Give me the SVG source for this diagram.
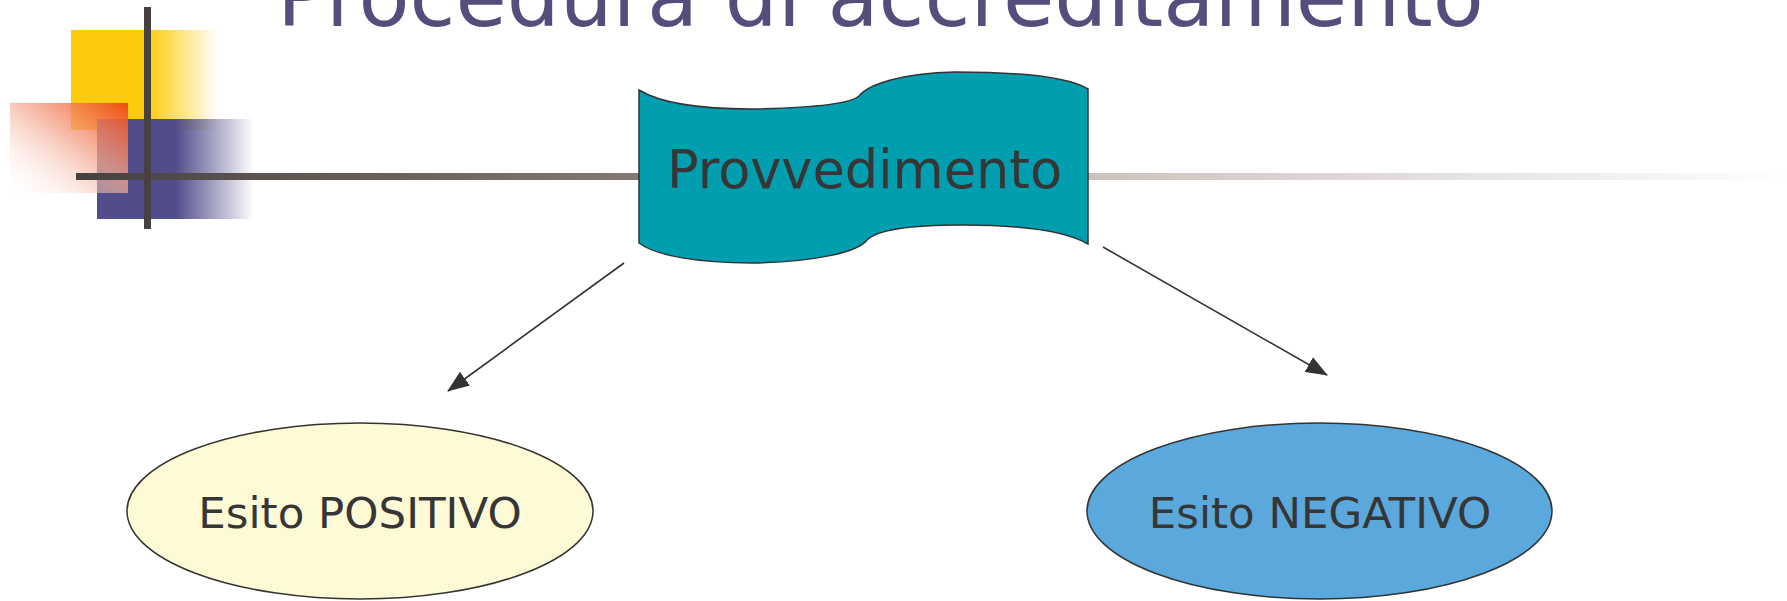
<svg xmlns="http://www.w3.org/2000/svg" width="1787" height="601" viewBox="0 0 1787 601">
<style>
.lbl{font-family:"DejaVu Sans","Verdana",sans-serif;fill:#363636;text-anchor:middle}
.node{stroke:#333333;stroke-width:1.5}
.conn{stroke:#333333;stroke-width:1.6;fill:none}
</style>
<defs>
<linearGradient id="gY" x1="0" y1="0" x2="1" y2="0">
<stop offset="0" stop-color="#fecb0a"/><stop offset="0.52" stop-color="#fecb0a"/><stop offset="1" stop-color="#fecb0a" stop-opacity="0"/>
</linearGradient>
<linearGradient id="gB" x1="0" y1="0" x2="1" y2="0">
<stop offset="0" stop-color="#514d8a"/><stop offset="0.5" stop-color="#514d8a"/><stop offset="1" stop-color="#514d8a" stop-opacity="0"/>
</linearGradient>
<linearGradient id="gP" x1="1" y1="0" x2="0" y2="1">
<stop offset="0" stop-color="#ee4510" stop-opacity="0.95"/><stop offset="0.45" stop-color="#f4a890" stop-opacity="0.75"/><stop offset="1" stop-color="#ffffff" stop-opacity="0.1"/>
</linearGradient>
<linearGradient id="gH" gradientUnits="userSpaceOnUse" x1="76" y1="0" x2="1787" y2="0">
<stop offset="0" stop-color="#45413f"/><stop offset="0.33" stop-color="#867975"/><stop offset="0.6" stop-color="#cbc3c0"/><stop offset="1" stop-color="#ffffff"/>
</linearGradient>
<marker id="arr" markerUnits="userSpaceOnUse" viewBox="0 0 22 17" refX="21" refY="8.5" markerWidth="22" markerHeight="17" orient="auto">
<path d="M0,0 L22,8.5 L0,17 z" fill="#333333"/>
</marker>
</defs>
<rect width="1787" height="601" fill="#ffffff"/>
<g id="decoration">
<rect x="71" y="30" width="147" height="100" fill="url(#gY)"/>
<rect x="97" y="119" width="157" height="100" fill="url(#gB)"/>
<rect x="10" y="103" width="118" height="90" fill="url(#gP)"/>
<rect x="76" y="173" width="1711" height="7" fill="url(#gH)"/>
<rect x="144" y="7" width="7" height="222" fill="#47423f"/>
</g>
<g id="title">
<text x="277" y="26" font-family="DejaVu Sans, Verdana, sans-serif" font-size="83.5" fill="#544e7c">Procedura di accreditamento</text>
</g>
<g id="connectors">
<line class="conn" x1="624" y1="263" x2="448" y2="391" marker-end="url(#arr)"/>
<line class="conn" x1="1103" y1="247" x2="1327" y2="375" marker-end="url(#arr)"/>
</g>
<g id="provvedimento">
<path class="node" fill="#019eb0" d="M639,90 C662,104 700,109 751,109 C808,108 850,104 859,96 C868,85 900,73 955,72 C1020,72 1068,77 1088,89 L1088,244 C1066,231 1022,225 962,225 C906,225 876,231 867,240 C858,252 816,262 751,263 C700,263 656,256 639,243 Z"/>
<text class="lbl" x="864.5" y="188" font-size="52.5">Provvedimento</text>
</g>
<g id="esito-positivo">
<ellipse class="node" cx="360" cy="511" rx="233" ry="88" fill="#fffad6"/>
<text class="lbl" x="360" y="528" font-size="43.5">Esito POSITIVO</text>
</g>
<g id="esito-negativo">
<ellipse class="node" cx="1319.5" cy="511" rx="232.5" ry="88" fill="#5ba8dc"/>
<text class="lbl" x="1320" y="528" font-size="43.5">Esito NEGATIVO</text>
</g>
</svg>
